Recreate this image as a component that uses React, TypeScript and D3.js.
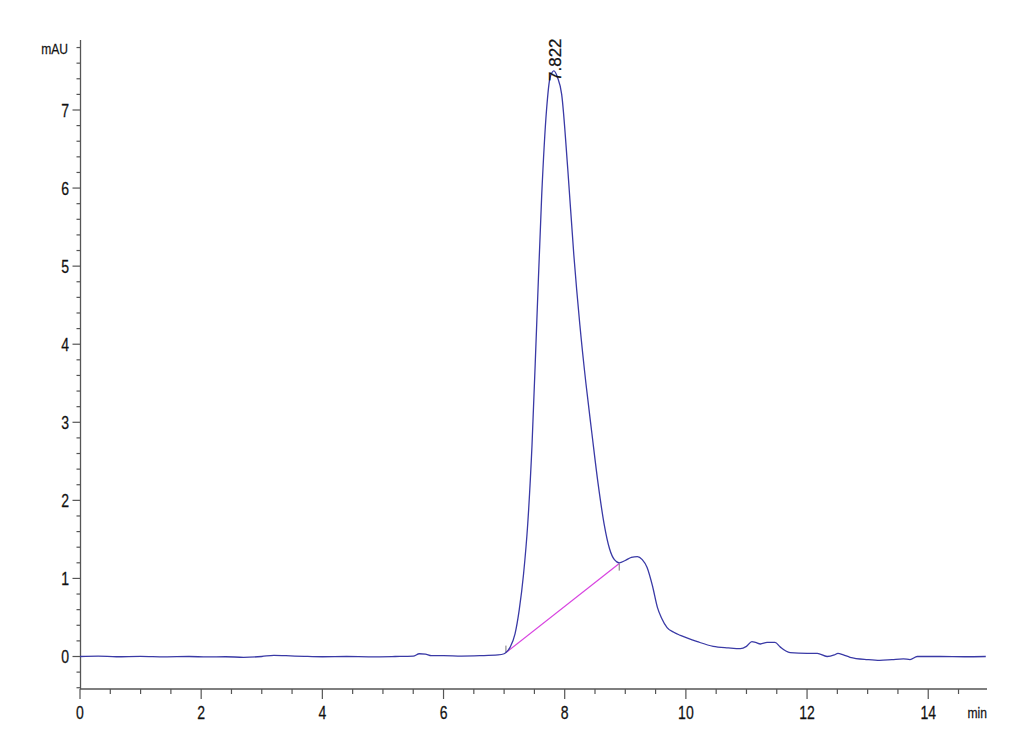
import React from "react";
import * as d3 from "d3";

const times = [
  0.0, 0.3, 0.6, 1.0, 1.4, 1.8, 2.1, 2.4, 2.7, 3.0, 3.2, 3.4, 3.7, 4.0, 4.4, 4.8, 5.2, 5.5, 5.6, 5.7, 5.8,
  6.0, 6.3, 6.6, 6.9, 7.0, 7.03, 7.1, 7.18, 7.25, 7.32, 7.39, 7.46, 7.54, 7.62, 7.7, 7.76, 7.822, 7.88,
  7.95, 8.05, 8.15, 8.25, 8.35, 8.45, 8.55, 8.65, 8.74, 8.82, 8.9, 9.0, 9.1, 9.2, 9.28, 9.36, 9.45, 9.53,
  9.6, 9.69, 9.8, 9.91, 10.19, 10.45, 10.7, 10.9, 11.0, 11.09, 11.15, 11.23, 11.34, 11.47, 11.56, 11.65,
  11.72, 12.0, 12.17, 12.33, 12.45, 12.51, 12.6, 12.71, 13.0, 13.2, 13.4, 13.59, 13.7, 13.82, 14.2, 14.6,
  14.95,
];
const signal = [
  0.0, 0.005, -0.003, 0.002, -0.004, 0.0, -0.006, -0.003, -0.01, 0.0, 0.015, 0.01, 0.002, -0.003, 0.0, -0.004,
  0.0, 0.005, 0.035, 0.03, 0.01, 0.01, 0.005, 0.01, 0.02, 0.035, 0.05, 0.12, 0.29, 0.6, 1.05, 1.7, 2.7, 4.3,
  5.9, 7.0, 7.42, 7.5, 7.42, 7.2, 6.25, 5.15, 4.25, 3.5, 2.85, 2.22, 1.7, 1.38, 1.24, 1.2, 1.23, 1.27, 1.28,
  1.24, 1.14, 0.9, 0.63, 0.49, 0.37, 0.31, 0.27, 0.19, 0.13, 0.11, 0.1, 0.13, 0.19, 0.18, 0.16, 0.18, 0.18,
  0.12, 0.07, 0.05, 0.04, 0.04, 0.0, 0.02, 0.04, 0.02, -0.01, -0.04, -0.05, -0.04, -0.03, -0.04, 0.0, 0.0,
  -0.003, 0.0,
];
const baselineTimes = [7.03, 8.9];
const baselineValues = [0.05, 1.19];
const peakTime = 7.822;
const peakLabel = "7.822";
const xTickValues = [0, 2, 4, 6, 8, 10, 12, 14];
const yTickValues = [0, 1, 2, 3, 4, 5, 6, 7];

const FONT = "'Liberation Sans', Arial, sans-serif";
const SX = 0.78;

function NarrowText(props: {
  x: number;
  y: number;
  anchor: "start" | "middle" | "end";
  size: number;
  children: React.ReactNode;
  rotate?: number;
  sx?: number;
}) {
  const { x, y, anchor, size, children, rotate, sx } = props;
  const s = sx === undefined ? SX : sx;
  return (
    <text
      transform={`translate(${x},${y})${rotate ? ` rotate(${rotate})` : ""} scale(${s},1)`}
      textAnchor={anchor}
      fontFamily={FONT}
      fontSize={size}
      fill="#111"
      stroke="#111"
      strokeWidth={0.25}
    >
      {children}
    </text>
  );
}

export default function App() {
  const W = 1030;
  const H = 755;
  const x = d3.scaleLinear().domain([0, 14.97]).range([80, 987]);
  const y = d3.scaleLinear().domain([0, 7]).range([656.5, 110]);
  const axisY = 689;
  const axisX = 80.5;

  const pts: [number, number][] = times.map((t, i) => [t, signal[i]]);
  const line = d3
    .line<[number, number]>()
    .x((d) => x(d[0]))
    .y((d) => y(d[1]))
    .curve(d3.curveMonotoneX);

  const xMinor = d3.range(0, 15.0, 0.5);
  const yMinor = d3.range(-0.4, 7.81, 0.2).map((v) => Math.round(v * 10) / 10);

  const peakIdx = d3.maxIndex(signal);
  const peakY = y(signal[peakIdx]);

  return (
    <svg width={W} height={H} style={{ position: "absolute", left: 0, top: 0, background: "#fff" }}>
      <rect x={0} y={0} width={W} height={H} fill="#fff" />
      {/* Y axis */}
      <line x1={axisX} x2={axisX} y1={40} y2={axisY} stroke="#555" strokeWidth={1.3} />
      {yMinor.map((v) => {
        const major = Math.abs(v - Math.round(v)) < 1e-6;
        return (
          <line
            key={"ym" + v}
            x1={axisX - (major ? 8 : 4)}
            x2={axisX}
            y1={y(v)}
            y2={y(v)}
            stroke="#555"
            strokeWidth={1.2}
          />
        );
      })}
      {yTickValues.map((v) => (
        <NarrowText key={"yl" + v} x={69} y={y(v) + 6.5} anchor="end" size={18}>
          {v}
        </NarrowText>
      ))}
      <NarrowText x={68} y={54} anchor="end" size={15.5}>
        mAU
      </NarrowText>
      {/* X axis */}
      <line x1={80} x2={987} y1={axisY} y2={axisY} stroke="#555" strokeWidth={1.3} />
      {xMinor.map((v) => {
        const major = Math.abs(v / 2 - Math.round(v / 2)) < 1e-6;
        return (
          <line
            key={"xm" + v}
            x1={x(v)}
            x2={x(v)}
            y1={axisY}
            y2={axisY + (major ? 10 : 5)}
            stroke="#555"
            strokeWidth={1.2}
          />
        );
      })}
      {xTickValues.map((v) => (
        <NarrowText key={"xl" + v} x={x(v)} y={719} anchor="middle" size={18}>
          {v}
        </NarrowText>
      ))}
      <NarrowText x={987} y={718} anchor="end" size={15.5}>
        min
      </NarrowText>
      {/* baseline */}
      <line
        x1={x(baselineTimes[0])}
        y1={y(baselineValues[0])}
        x2={x(baselineTimes[1])}
        y2={y(baselineValues[1])}
        stroke="#d844e0"
        strokeWidth={1.2}
      />
      <line
        x1={x(baselineTimes[0])}
        x2={x(baselineTimes[0])}
        y1={y(baselineValues[0]) - 7}
        y2={y(baselineValues[0])}
        stroke="#777"
        strokeWidth={1}
      />
      <line
        x1={x(baselineTimes[1])}
        x2={x(baselineTimes[1])}
        y1={y(baselineValues[1])}
        y2={y(baselineValues[1]) + 7}
        stroke="#777"
        strokeWidth={1}
      />
      {/* trace */}
      <path d={line(pts) || ""} fill="none" stroke="#3a3aa6" strokeWidth={1.3} />
      {/* peak label */}
      <NarrowText x={x(peakTime) + 7} y={peakY + 10} anchor="start" size={17} rotate={-90} sx={1}>
        {peakLabel}
      </NarrowText>
    </svg>
  );
}
